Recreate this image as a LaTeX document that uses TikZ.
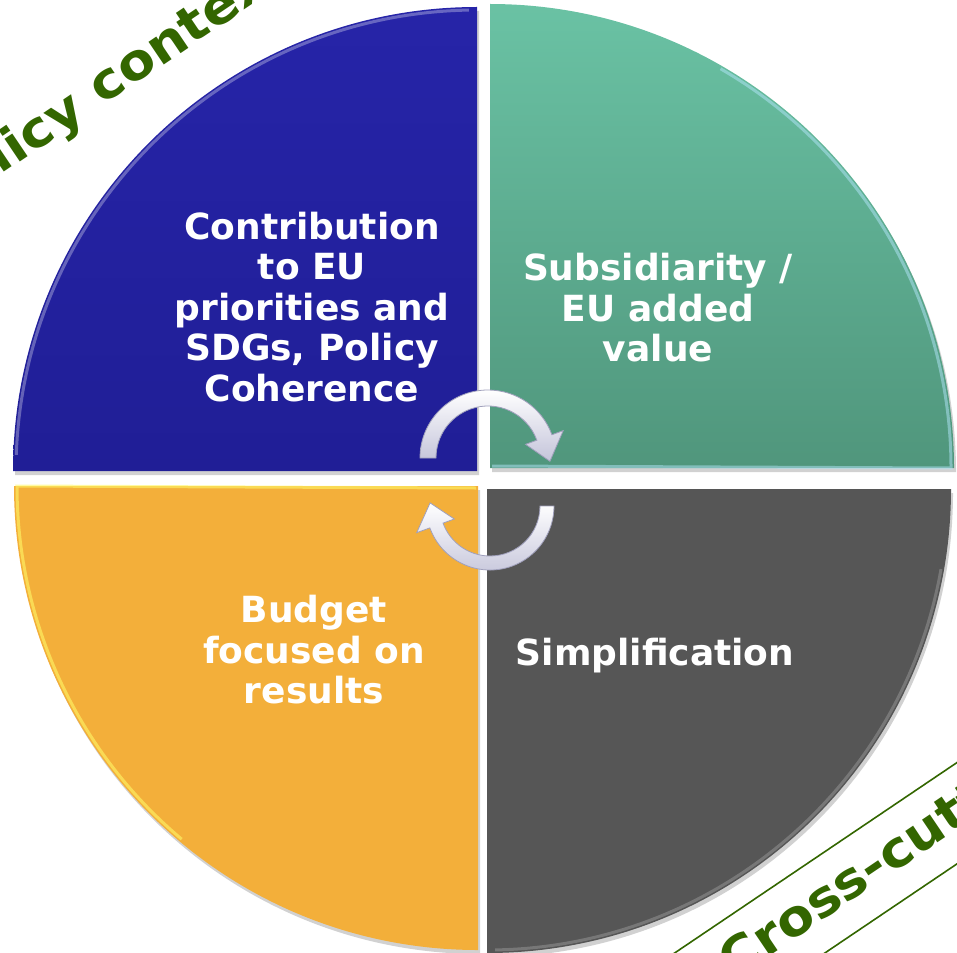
\documentclass[tikz,border=0pt]{standalone}
\usepackage{fontspec}
\setmainfont{DejaVu Sans}
\definecolor{SectorBlue}{RGB}{32, 30, 150}
\definecolor{SectorBlueTop}{RGB}{38, 36, 168}
\definecolor{SectorTeal}{RGB}{80, 150, 124}
\definecolor{SectorTealTop}{RGB}{106, 194, 164}
\definecolor{SectorOrange}{RGB}{243, 175, 58}
\definecolor{SectorGray}{RGB}{86, 86, 86}
\definecolor{ContextGreen}{RGB}{51, 102, 0}
\definecolor{ArrowShade}{RGB}{196, 196, 218}
\definecolor{ArrowEdge}{RGB}{160, 160, 188}
\usetikzlibrary{arrows.meta, positioning, shapes, calc}

\tikzset{
    sectorlabel/.style={text=white, font=\bfseries\fontsize{36}{40.5}\selectfont, align=center},
    contextlabel/.style={text=ContextGreen, font=\bfseries\fontsize{50}{60}\selectfont, rotate=34, xscale=1.08},
    crossbox/.style={contextlabel, draw=ContextGreen, line width=1.6pt, minimum height=84pt, minimum width=650pt},
    cyclearrow/.style={top color=white, bottom color=ArrowShade, draw=ArrowEdge, line width=0.8pt},
    sectorshadow/.style={fill=black, opacity=0.18},
    sectorrim/.style={line width=3pt, opacity=0.3}
}

\begin{document}
\begin{tikzpicture}[x=1pt, y=-1pt]
    \useasboundingbox (0,0) rectangle (957,952);
    \clip (0,0) rectangle (957,952);

    % Contribution quarter
    \begin{scope}[shift={(477,471)}]
        \fill[sectorshadow] (2,4) -- ++(180:464) arc[start angle=180, end angle=270, radius=464] -- cycle;
        \shade[top color=SectorBlueTop, bottom color=SectorBlue] (0,0) -- (180:464) arc[start angle=180, end angle=270, radius=464] -- cycle;
        \draw[sectorrim, white] (182:461) arc[start angle=182, end angle=269, radius=461];
    \end{scope}

    % Subsidiarity quarter
    \begin{scope}[shift={(490,468)}]
        \fill[sectorshadow] (2,4) -- ++(270:464) arc[start angle=270, end angle=360, radius=464] -- cycle;
        \shade[top color=SectorTealTop, bottom color=SectorTeal] (0,0) -- (270:464) arc[start angle=270, end angle=360, radius=464] -- cycle;
        \draw[sectorrim, cyan!30!white, opacity=0.5] (300:461) arc[start angle=300, end angle=360, radius=461] -- (2,-2);
    \end{scope}

    % Budget quarter
    \begin{scope}[shift={(478,486)}]
        \fill[sectorshadow] (2,4) -- ++(90:464) arc[start angle=90, end angle=180, radius=464] -- cycle;
        \fill[SectorOrange] (0,0) -- (90:464) arc[start angle=90, end angle=180, radius=464] -- cycle;
        \draw[sectorrim, yellow!60!white, opacity=0.6] (130:461) arc[start angle=130, end angle=180, radius=461] -- (-2,2);
    \end{scope}

    % Simplification quarter
    \begin{scope}[shift={(487,489)}]
        \fill[sectorshadow] (2,4) -- ++(0:464) arc[start angle=0, end angle=90, radius=464] -- cycle;
        \fill[SectorGray] (0,0) -- (0:464) arc[start angle=0, end angle=90, radius=464] -- cycle;
        \draw[sectorrim, white, opacity=0.2] (10:461) arc[start angle=10, end angle=89, radius=461];
    \end{scope}

    % quarter labels
    \node[sectorlabel] (contribution) at (312,307) {Contribution\\to EU\\priorities and\\SDGs, Policy\\Coherence};
    \node[sectorlabel] (subsidiarity) at (658,308) {Subsidiarity /\\EU added\\value};
    \node[sectorlabel] (budget) at (314,650) {Budget\\focused on\\results};
    \node[sectorlabel] (simplification) at (655,656) {Simplification};

    % cycle arrows
    \begin{scope}[shift={(488,458)}]
        \shadedraw[cyclearrow] (180:68) arc[start angle=180, end angle=340, radius=68] -- (340:80) -- (3:62) -- (340:40) -- (340:52) arc[start angle=340, end angle=180, radius=52] -- cycle;
    \end{scope}
    \begin{scope}[shift={(490,506)}]
        \shadedraw[cyclearrow] (0:50) arc[start angle=0, end angle=160, radius=50] -- (160:38) -- (183:60) -- (160:78) -- (160:64) arc[start angle=160, end angle=0, radius=64] -- cycle;
    \end{scope}

    % context labels
    \node[contextlabel] (policycontext) at (108,86) {Policy context};
    \node[crossbox] (crosscutting) at (895,855) {Cross-cutting};
\end{tikzpicture}
\end{document}
